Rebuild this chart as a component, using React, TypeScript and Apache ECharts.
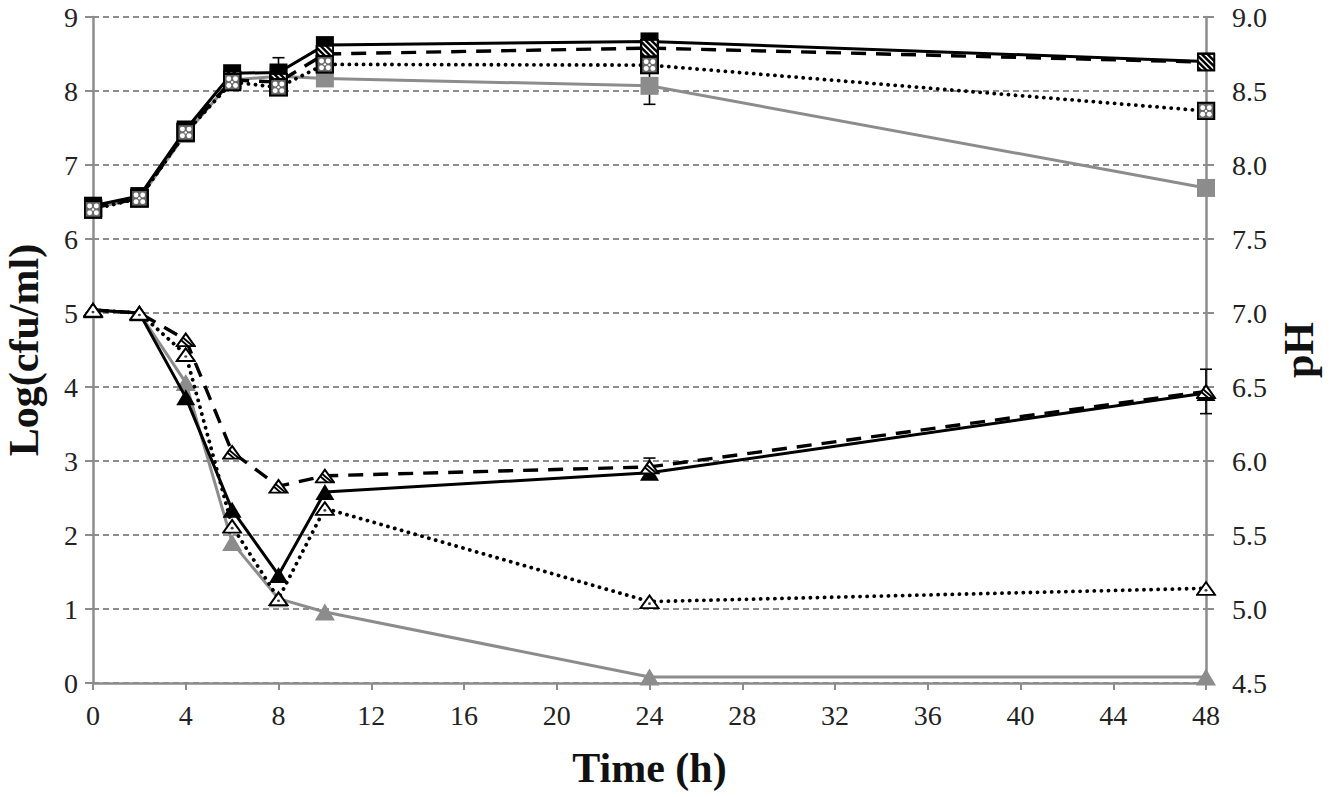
import React, { useEffect, useRef } from "react";
import * as echarts from "echarts";

// ---------- data ----------
const times = [0, 2, 4, 6, 8, 10, 24, 48];
const xTicks = [0, 4, 8, 12, 16, 20, 24, 28, 32, 36, 40, 44, 48];

// Log(cfu/ml) – left axis (squares)
const cfuSolidBlack = [6.45, 6.58, 7.48, 8.24, 8.25, 8.62, 8.67, 8.4];
const cfuDashed = [6.42, 6.55, 7.45, 8.15, 8.12, 8.5, 8.58, 8.39];
const cfuDotted = [6.4, 6.55, 7.44, 8.12, 8.05, 8.36, 8.35, 7.73];
const cfuGray = [6.42, 6.55, 7.42, 8.15, 8.2, 8.17, 8.07, 6.69];

// pH – right axis (triangles)
const phSolidBlack = [7.02, 7.0, 6.43, 5.67, 5.23, 5.79, 5.92, 6.46];
const phDashed = [7.02, 7.0, 6.82, 6.06, 5.83, 5.9, 5.96, 6.47];
const phDotted = [7.02, 7.0, 6.72, 5.56, 5.07, 5.68, 5.05, 5.14];
const phGray = [7.02, 7.0, 6.53, 5.45, 5.07, 4.98, 4.54, 4.54];

// error bars [x, low, high]
const cfuErrors = [
  [8, 8.05, 8.45],
  [24, 7.82, 8.32],
  [0, 6.4, 6.52],
];
const phErrors = [
  [48, 6.32, 6.62],
  [24, 5.88, 6.02],
];

const GRAY = "#8c8c8c";
const FONT = "Liberation Serif";

const svgUri = (s: string) => "image://data:image/svg+xml;charset=utf-8," + encodeURIComponent(s);

const hatchSquare = svgUri(
  "<svg xmlns='http://www.w3.org/2000/svg' width='20' height='20' viewBox='0 0 20 20'>" +
    "<defs><clipPath id='c'><rect x='1' y='1' width='18' height='18'/></clipPath></defs>" +
    "<rect x='1' y='1' width='18' height='18' fill='white'/>" +
    "<g clip-path='url(#c)' stroke='black' stroke-width='2.6'>" +
    "<line x1='-14' y1='0' x2='6' y2='20'/><line x1='-8' y1='0' x2='12' y2='20'/>" +
    "<line x1='-2' y1='0' x2='18' y2='20'/><line x1='4' y1='0' x2='24' y2='20'/>" +
    "<line x1='10' y1='0' x2='30' y2='20'/></g>" +
    "<rect x='1.2' y='1.2' width='17.6' height='17.6' fill='none' stroke='black' stroke-width='2.4'/></svg>"
);

const dotSquare = svgUri(
  "<svg xmlns='http://www.w3.org/2000/svg' width='20' height='20' viewBox='0 0 20 20'>" +
    "<rect x='1.2' y='1.2' width='17.6' height='17.6' fill='#6a6a6a' stroke='black' stroke-width='2.4'/>" +
    "<circle cx='6.5' cy='6.5' r='2.6' fill='white'/><circle cx='13.5' cy='6.5' r='2.6' fill='white'/>" +
    "<circle cx='6.5' cy='13.5' r='2.6' fill='white'/><circle cx='13.5' cy='13.5' r='2.6' fill='white'/>" +
    "<circle cx='10' cy='10' r='1.3' fill='white'/></svg>"
);

const hatchTri = svgUri(
  "<svg xmlns='http://www.w3.org/2000/svg' width='22' height='19' viewBox='0 0 22 19'>" +
    "<defs><clipPath id='t'><polygon points='11,2 20.5,17.5 1.5,17.5'/></clipPath></defs>" +
    "<polygon points='11,2 20.5,17.5 1.5,17.5' fill='white'/>" +
    "<g clip-path='url(#t)' stroke='black' stroke-width='2.2'>" +
    "<line x1='0' y1='4' x2='14' y2='18'/><line x1='5' y1='4' x2='19' y2='18'/></g>" +
    "<polygon points='11,2 20.5,17.5 1.5,17.5' fill='none' stroke='black' stroke-width='2.2' stroke-linejoin='miter'/></svg>"
);

const dotTri = svgUri(
  "<svg xmlns='http://www.w3.org/2000/svg' width='22' height='19' viewBox='0 0 22 19'>" +
    "<polygon points='11,2 20.5,17.5 1.5,17.5' fill='white' stroke='black' stroke-width='2.2'/>" +
    "<circle cx='11' cy='12' r='1.6' fill='#444'/></svg>"
);

const pairs = (ys: number[]) => times.map((t, i) => [t, ys[i]]);

const errSeries = (data: number[][], yAxisIndex: number) => ({
  type: "custom",
  yAxisIndex,
  z: 1,
  data,
  renderItem: (_p: any, api: any) => {
    const x = api.value(0);
    const top = api.coord([x, api.value(2)]);
    const bot = api.coord([x, api.value(1)]);
    const w = 6;
    const st = { stroke: "#000", lineWidth: 1.6 };
    return {
      type: "group",
      children: [
        { type: "line", shape: { x1: top[0], y1: top[1], x2: bot[0], y2: bot[1] }, style: st },
        { type: "line", shape: { x1: top[0] - w, y1: top[1], x2: top[0] + w, y2: top[1] }, style: st },
        { type: "line", shape: { x1: bot[0] - w, y1: bot[1], x2: bot[0] + w, y2: bot[1] }, style: st },
      ],
    };
  },
});

const lineSeries = (
  name: string,
  ys: number[],
  yAxisIndex: number,
  color: string,
  dash: any,
  symbol: string,
  size: any,
  symColor: string,
  z: number
) => {
  const dotted = dash === "dotted";
  return {
    name,
    type: "line",
    yAxisIndex,
    data: pairs(ys),
    symbol,
    symbolSize: size,
    showSymbol: true,
    z,
    lineStyle: {
      color,
      width: dotted ? 3.8 : dash === "solid" ? 3 : 3.4,
      type: dotted ? [0.1, 7] : dash,
      cap: dotted ? "round" : "butt",
    },
    itemStyle: { color: symColor, borderWidth: 0, opacity: 1 },
  };
};

export default function App() {
  const ref = useRef<HTMLDivElement>(null);
  useEffect(() => {
    if (!ref.current) return;
    const chart = echarts.init(ref.current, null, { renderer: "svg" });
    const axisLine = { show: true, lineStyle: { color: GRAY, width: 2.5 } };
    const title = { fontFamily: FONT, fontWeight: "bold", fontSize: 42, color: "#111" };
    const label = { fontFamily: FONT, fontSize: 28, color: "#222" };
    chart.setOption({
      animation: false,
      backgroundColor: "#ffffff",
      textStyle: { fontFamily: FONT },
      grid: { left: 93, right: 127, top: 17, bottom: 114, containLabel: false, outerBoundsMode: "none" },
      xAxis: {
        type: "value",
        min: 0,
        max: 48,
        interval: 4,
        name: "Time (h)",
        nameLocation: "middle",
        nameGap: 64,
        nameTextStyle: title,
        axisLine,
        axisTick: { show: true, length: 7, lineStyle: { color: GRAY, width: 2 } },
        axisLabel: { ...label, margin: 18, customValues: xTicks },
        splitLine: { show: false },
      },
      yAxis: [
        {
          type: "value",
          min: 0,
          max: 9,
          interval: 1,
          name: "Log(cfu/ml)",
          nameLocation: "middle",
          nameRotate: 90,
          nameGap: 48,
          nameTextStyle: title,
          axisLine,
          axisTick: { show: true, length: 8, lineStyle: { color: GRAY, width: 2 } },
          axisLabel: { ...label, margin: 15 },
          splitLine: { show: true, lineStyle: { color: GRAY, width: 2, type: [6, 4] } },
        },
        {
          type: "value",
          min: 4.5,
          max: 9,
          interval: 0.5,
          position: "right",
          name: "pH",
          nameLocation: "middle",
          nameRotate: 90,
          nameGap: 60,
          nameTextStyle: title,
          axisLine,
          axisTick: { show: true, length: 8, lineStyle: { color: GRAY, width: 2 } },
          axisLabel: { ...label, margin: 26, formatter: (v: number) => v.toFixed(1) },
          splitLine: { show: false },
        },
      ],
      series: [
        errSeries(cfuErrors, 0),
        errSeries(phErrors, 1),
        lineSeries("cfu gray", cfuGray, 0, GRAY, "solid", "rect", 18, GRAY, 2),
        lineSeries("cfu black", cfuSolidBlack, 0, "#000", "solid", "rect", 18, "#000", 3),
        lineSeries("cfu dashed", cfuDashed, 0, "#000", [15, 10], hatchSquare, 19, "#000", 4),
        lineSeries("cfu dotted", cfuDotted, 0, "#000", "dotted", dotSquare, 19, "#000", 5),
        lineSeries("pH gray", phGray, 1, GRAY, "solid", "triangle", [20, 17], GRAY, 2),
        lineSeries("pH black", phSolidBlack, 1, "#000", "solid", "triangle", [19, 16], "#000", 3),
        lineSeries("pH dashed", phDashed, 1, "#000", [15, 10], hatchTri, [21, 18], "#000", 4),
        lineSeries("pH dotted", phDotted, 1, "#000", "dotted", dotTri, [21, 18], "#000", 5),
      ],
    });
    return () => chart.dispose();
  }, []);
  return (
    <div
      ref={ref}
      style={{ position: "fixed", left: 0, top: 0, width: 1333, height: 797, background: "#fff" }}
    />
  );
}
